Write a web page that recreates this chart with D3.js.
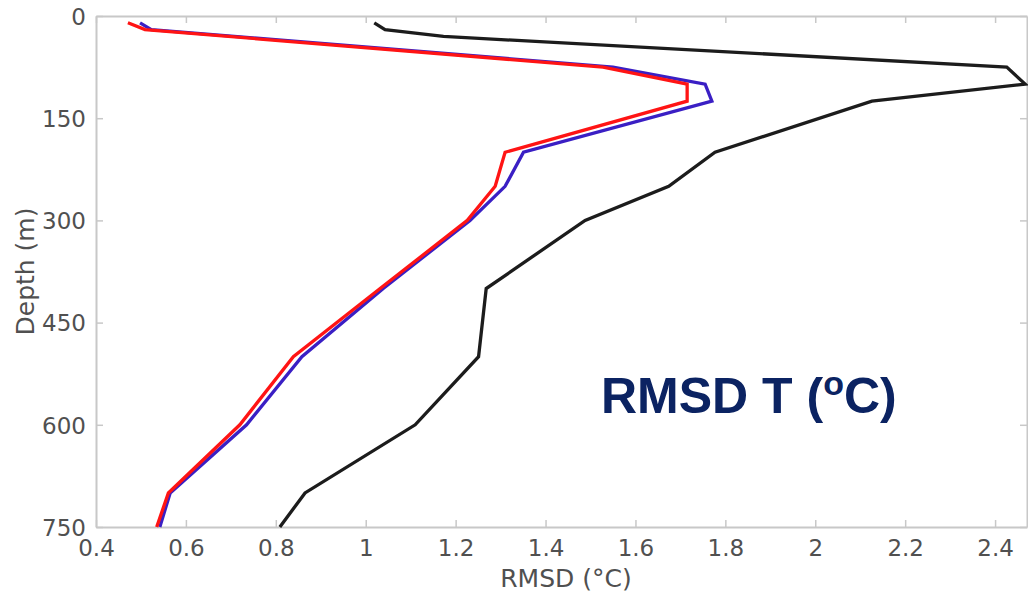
<!DOCTYPE html>
<html>
<head>
<meta charset="utf-8">
<script src="https://cdn.jsdelivr.net/npm/d3@7"></script>
<style>
  html, body { margin: 0; padding: 0; background: #fff; }
  svg { display: block; }
</style>
</head>
<body>
<svg id="chart" width="1028" height="595"></svg>
<script>
// Depth levels (m) shared by all profiles; null = no vertex at that level
const depths      = [10, 20, 30, 75, 100, 125, 200, 250, 300, 400, 500, 600, 700, 750];
// RMSD of temperature (°C) per depth level
const rmsdBlack   = [1.019, 1.043, 1.173, 2.426, 2.467, 2.126, 1.777, 1.674, 1.488, 1.268, 1.251, 1.110, 0.865, 0.809];
const rmsdBlue    = [0.498, 0.523, null, 1.550, 1.755, 1.770, 1.351, 1.310, 1.232, 1.039, 0.858, 0.735, 0.565, 0.542];
const rmsdRed     = [0.471, 0.509, null, 1.528, 1.715, 1.715, 1.310, 1.288, 1.226, 1.032, 0.839, 0.720, 0.561, 0.535];

const xTicks = [0.4, 0.6, 0.8, 1, 1.2, 1.4, 1.6, 1.8, 2, 2.2, 2.4];
const yTicks = [0, 150, 300, 450, 600, 750];

const svg = d3.select("#chart");
const plot = { left: 96, right: 1027, top: 16, bottom: 527 };

const x = d3.scaleLinear().domain([0.4, 2.471]).range([plot.left, plot.right]);
const y = d3.scaleLinear().domain([0, 750]).range([plot.top, plot.bottom]);

const axisColor = "#c8c8c8";
const textColor = "#505050";
const font = "DejaVu Sans, sans-serif";

// Axes on all four sides, ticks pointing inward
const gBottom = svg.append("g").attr("transform", `translate(0,${plot.bottom})`)
  .call(d3.axisBottom(x).tickValues(xTicks).tickSizeInner(-7).tickSizeOuter(0).tickPadding(13).tickFormat(d3.format("~g")));
const gTop = svg.append("g").attr("transform", `translate(0,${plot.top})`)
  .call(d3.axisTop(x).tickValues(xTicks).tickSizeInner(-7).tickSizeOuter(0).tickFormat(""));
const gLeft = svg.append("g").attr("transform", `translate(${plot.left},0)`)
  .call(d3.axisLeft(y).tickValues(yTicks).tickSizeInner(-7).tickSizeOuter(0).tickPadding(10));
const gRight = svg.append("g").attr("transform", `translate(${plot.right},0)`)
  .call(d3.axisRight(y).tickValues(yTicks).tickSizeInner(-7).tickSizeOuter(0).tickFormat(""));

[gBottom, gTop, gLeft, gRight].forEach(g => {
  g.select(".domain").attr("stroke", axisColor).attr("stroke-width", 2);
  g.selectAll(".tick line").attr("stroke", axisColor).attr("stroke-width", 1.5);
  g.selectAll(".tick text").attr("fill", textColor).attr("font-family", font).attr("font-size", 23);
});
gLeft.selectAll(".tick text").attr("dy", "0.36em");

// Profiles
const line = d3.line()
  .x(d => x(d.v))
  .y(d => y(d.z));

function profile(values) {
  return depths.map((z, i) => ({ z, v: values[i] })).filter(d => d.v !== null);
}

const series = [
  { values: rmsdBlack, color: "#1c1c1c" },
  { values: rmsdBlue,  color: "#3a1fc4" },
  { values: rmsdRed,   color: "#ff1414" }
];

svg.append("g").selectAll("path")
  .data(series)
  .join("path")
  .attr("d", s => line(profile(s.values)))
  .attr("fill", "none")
  .attr("stroke", s => s.color)
  .attr("stroke-width", 3.3)
  .attr("stroke-linejoin", "miter");

// Axis titles
svg.append("text")
  .attr("x", 566).attr("y", 587)
  .attr("text-anchor", "middle")
  .attr("fill", textColor).attr("font-family", font).attr("font-size", 25)
  .text("RMSD (°C)");

svg.append("text")
  .attr("transform", `translate(34,${(plot.top + plot.bottom) / 2}) rotate(-90)`)
  .attr("text-anchor", "middle")
  .attr("fill", textColor).attr("font-family", font).attr("font-size", 25)
  .text("Depth (m)");

// Panel label
const label = svg.append("text")
  .attr("x", 601).attr("y", 413)
  .attr("fill", "#0b2362")
  .attr("font-family", "Liberation Sans, Arial, sans-serif")
  .attr("font-weight", "bold")
  .attr("font-size", 50);
label.append("tspan").text("RMSD T (");
label.append("tspan").attr("font-size", 34).attr("dy", -18).text("o");
label.append("tspan").attr("dy", 18).text("C)");
</script>
</body>
</html>
